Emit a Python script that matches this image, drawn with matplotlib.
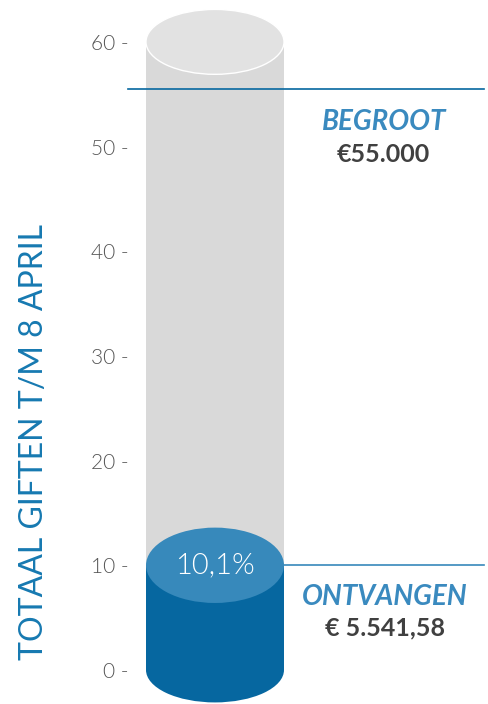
import matplotlib.pyplot as plt
from matplotlib.patches import Rectangle, Ellipse

# === DATA ===
ticks = [0, 10, 20, 30, 40, 50, 60]
tick_labels = [f"{t} -" for t in ticks]
gauge_max = 60
begroot_level = 55.5
ontvangen_level = 10
percent_label = "10,1%"
begroot_label = "BEGROOT"
begroot_amount = "€55.000"
ontvangen_label = "ONTVANGEN"
ontvangen_amount = "€ 5.541,58"
y_title = "TOTAAL GIFTEN T/M 8 APRIL"

# === STYLE ===
BLUE_TXT = "#3a8abf"
BLUE_AX = "#1679b1"
BLUE_BODY = "#0667a0"
BLUE_TOP = "#3789bb"
GRAY_BODY = "#d9d9d9"
GRAY_TOP = "#e2e2e2"
DARK = "#404040"
plt.rcParams['font.family'] = ['Lato', 'DejaVu Sans']

fig = plt.figure(figsize=(4.88, 7.04), dpi=100)
ax = fig.add_axes([134 / 488, 0, 354 / 488, 1])
ax.set_xlim(134, 488)
ax.set_ylim(-3.25, 64.0)

cx, w = 215, 138
gray_h = 6.2
blue_h = 7.2

# gray cylinder
ax.add_patch(Rectangle((cx - w / 2, 0), w, gauge_max, color=GRAY_BODY, lw=0, zorder=1))
ax.add_patch(Ellipse((cx, gauge_max), w, gray_h, facecolor=GRAY_TOP, edgecolor="white", lw=1, zorder=2))

# blue cylinder
ax.add_patch(Ellipse((cx, 0), w, gray_h, color=BLUE_BODY, lw=0, zorder=3))
ax.add_patch(Rectangle((cx - w / 2, 0), w, ontvangen_level, color=BLUE_BODY, lw=0, zorder=3))
ax.add_patch(Ellipse((cx, ontvangen_level), w, blue_h, color=BLUE_TOP, lw=0, zorder=4))
ax.text(cx, ontvangen_level, percent_label, color="white", fontsize=21, fontweight=300,
        ha="center", va="center", zorder=5)

# reference lines
ax.plot([128, 484], [begroot_level, begroot_level], color=BLUE_BODY, lw=1.2, zorder=6, clip_on=False)
ax.plot([cx + w / 2, 484], [ontvangen_level, ontvangen_level], color=BLUE_TOP, lw=1.2, zorder=6)

ax.text(384, begroot_level - 3.2, begroot_label, color=BLUE_TXT, fontsize=20, fontweight="bold",
        fontstyle="italic", ha="center", va="center")
ax.text(383, begroot_level - 6.3, begroot_amount, color=DARK, fontsize=18, fontweight="bold",
        ha="center", va="center")
ax.text(385, ontvangen_level - 3.0, ontvangen_label, color=BLUE_TXT, fontsize=20, fontweight="bold",
        fontstyle="italic", ha="center", va="center")
ax.text(385, ontvangen_level - 5.95, ontvangen_amount, color=DARK, fontsize=18, fontweight="bold",
        ha="center", va="center")

# axes
ax.set_yticks(ticks)
ax.set_yticklabels(tick_labels, color="#555555", fontsize=15, fontweight=300)
ax.tick_params(axis="y", length=0, pad=4)
ax.set_xticks([])
for s in ax.spines.values():
    s.set_visible(False)

fig.text(34 / 488, 1 - 442 / 704, y_title, rotation=90, color=BLUE_AX, fontsize=23,
         ha="center", va="center")

fig.savefig("out.png", dpi=100)
